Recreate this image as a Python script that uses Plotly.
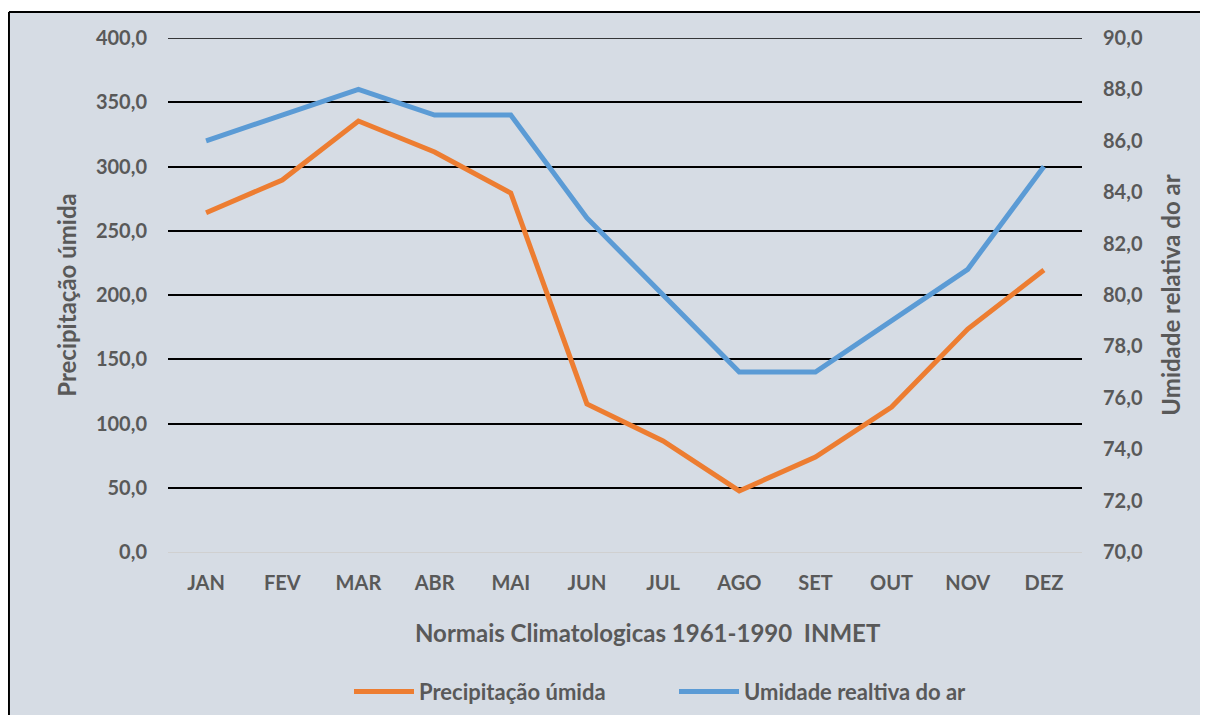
import plotly.graph_objects as go

meses = ["JAN", "FEV", "MAR", "ABR", "MAI", "JUN", "JUL", "AGO", "SET", "OUT", "NOV", "DEZ"]
precipitacao = [264, 289.5, 335.4, 311.3, 279.4, 115.2, 86.4, 47.5, 73.9, 112.8, 173.5, 219.5]
umidade = [86, 87, 88, 87, 87, 83, 80, 77, 77, 79, 81, 85]

cinza = "#595959"
fonte = "Lato"

fig = go.Figure()
fig.add_trace(go.Scatter(x=meses, y=precipitacao, name="Precipitação úmida", mode="lines",
                         line=dict(color="#ED7D31", width=5)))
fig.add_trace(go.Scatter(x=meses, y=umidade, name="Umidade realtiva do ar", mode="lines",
                         line=dict(color="#5B9BD5", width=5), yaxis="y2"))

# fundo cinza-azulado com borda preta à esquerda e no topo
fig.add_shape(type="rect", xref="paper", yref="paper", x0=-0.174, x1=1.2, y0=-0.35, y1=1.0506,
              fillcolor="#D6DCE4", line=dict(width=0), layer="below")
fig.add_shape(type="line", xref="paper", yref="paper", x0=-0.174, x1=1.2, y0=1.0506, y1=1.0506,
              line=dict(color="black", width=2), layer="below")
fig.add_shape(type="line", xref="paper", yref="paper", x0=-0.174, x1=-0.174, y0=-0.35, y1=1.0506,
              line=dict(color="black", width=2), layer="below")
# linha de grade do topo (plotly omite a da borda)
fig.add_shape(type="line", xref="paper", yref="y", x0=0, x1=1, y0=400, y1=400,
              line=dict(color="black", width=1.5), layer="below")

titulo = dict(size=24, color=cinza, weight="bold")

fig.add_annotation(text="Normais Climatologicas 1961-1990  INMET", xref="paper", yref="paper",
                   x=0.525, y=-0.156, xanchor="center", yanchor="middle", showarrow=False,
                   font=titulo)

fig.update_layout(
    width=1200, height=707,
    margin=dict(l=160, r=126, t=30, b=163),
    paper_bgcolor="white", plot_bgcolor="rgba(0,0,0,0)",
    separators=",.",
    font=dict(family=fonte, color=cinza, size=20, weight="bold"),
    showlegend=True,
    legend=dict(orientation="h", xref="container", yref="container", x=0.555, xanchor="center",
                y=0.033, yanchor="middle", entrywidth=250,
                font=dict(size=22, color=cinza, weight="bold"), itemwidth=60,
                bgcolor="rgba(0,0,0,0)"),
    xaxis=dict(range=[-0.5, 11.5], showgrid=False, showline=True, linecolor="#D0D0D0", linewidth=1,
               ticks="", ticklabelstandoff=13, automargin=False, tickfont=dict(size=20)),
    yaxis=dict(range=[0, 400], tickvals=[0, 50, 100, 150, 200, 250, 300, 350, 400],
               tickformat=".1f", showgrid=True, gridcolor="black", gridwidth=1.5,
               zeroline=False, ticks="", ticklabelstandoff=20, automargin=False,
               title=dict(text="Precipitação úmida", font=titulo, standoff=12)),
    yaxis2=dict(range=[70, 90], dtick=2, tickformat=".1f", overlaying="y", side="right",
                showgrid=False, zeroline=False, ticks="", ticklabelstandoff=20, automargin=False,
                title=dict(text="Umidade relativa do ar", font=titulo, standoff=21)),
)

fig.write_html("out.html")
